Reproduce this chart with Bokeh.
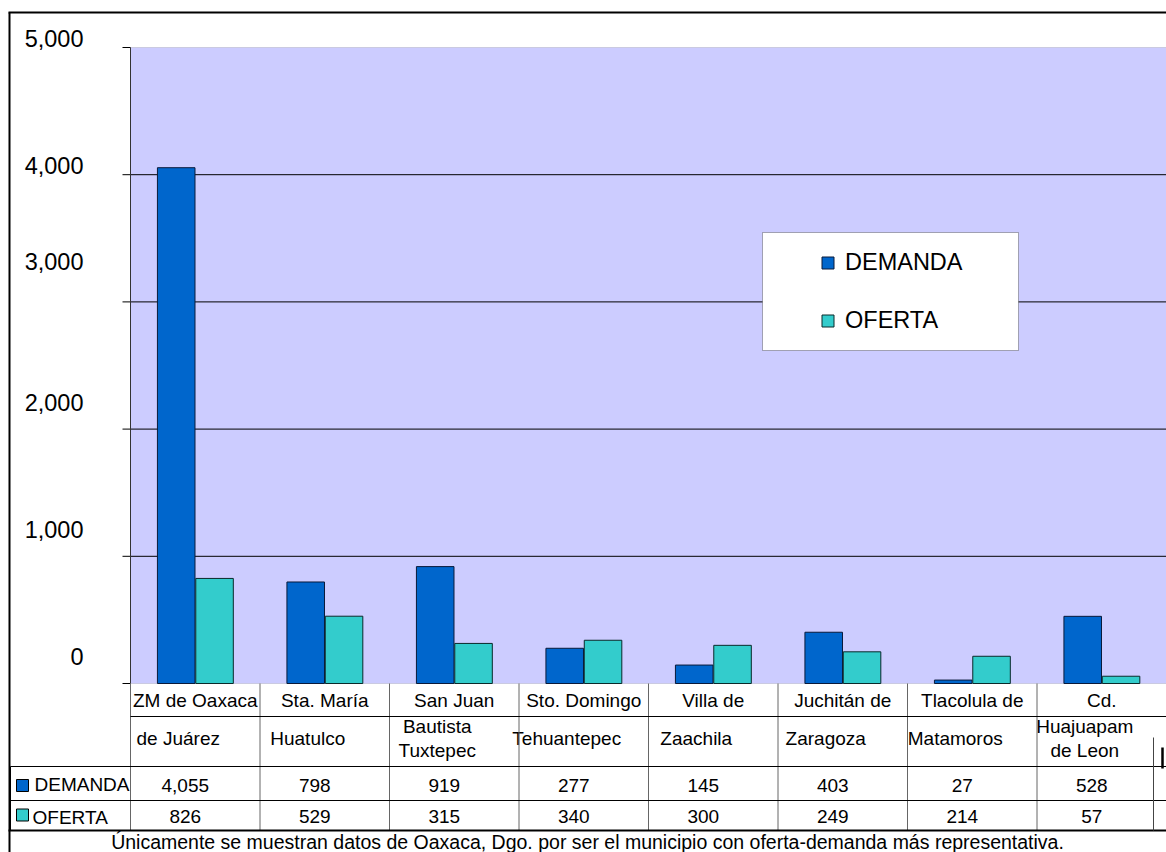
from bokeh.plotting import figure
from bokeh.models import (Range1d, FixedTicker, BoxAnnotation, Legend,
                          LegendItem, ColumnDataSource)
from bokeh.transform import dodge
from bokeh.embed import file_html
from bokeh.resources import INLINE
from bokeh.core.properties import value

# ---------------- data ----------------
categories_line1 = ["ZM de Oaxaca", "Sta. María", "San Juan", "Sto. Domingo",
                    "Villa de", "Juchitán de", "Tlacolula de", "Cd."]
categories_line2 = ["de Juárez", "Huatulco", "Bautista\nTuxtepec", "Tehuantepec",
                    "Zaachila", "Zaragoza", "Matamoros", "Huajuapam\nde Leon"]
series_names = ["DEMANDA", "OFERTA"]
series_colors = ["#0066CC", "#33CCCC"]
demanda = [4055, 798, 919, 277, 145, 403, 27, 528]
oferta = [826, 529, 315, 340, 300, 249, 214, 57]
y_ticks = [0, 1000, 2000, 3000, 4000, 5000]
y_tick_labels = ["0", "1,000", "2,000", "3,000", "4,000", "5,000"]
footer_note = ("Únicamente se muestran datos de Oaxaca, Dgo. por ser el municipio "
               "con oferta-demanda más representativa.")

# ---------------- layout constants (pixels) ----------------
FONT = "Liberation Sans"
W, H = 1166, 852
PX0 = 130.0          # x of the plot-area left edge
CAT_W = 129.5        # width of one category
Y0 = 683.0           # y of value 0
PPU = 636.0 / 5000   # pixels per unit
TICK_LEFT = 122.0
label_shift_px = [27, 26.5, 26.5, 40, 9, 9]   # tick labels sit above their ticks
n = len(demanda)


def dx(px):
    return (px - PX0) / CAT_W


def dy(py):
    return (Y0 - py) / PPU


p = figure(width=W, height=H, output_backend="svg", toolbar_location=None,
           x_range=Range1d(dx(0), dx(W)), y_range=Range1d(dy(H), dy(0)),
           x_axis_location=None, min_border_left=0, min_border_right=0,
           min_border_top=0, min_border_bottom=0)
p.outline_line_color = None
p.background_fill_color = "white"
p.border_fill_color = "white"
p.xgrid.visible = False
p.ygrid.visible = False

# y axis drawn at the left edge of the tick marks (labels only)
label_pos = [t + s / PPU for t, s in zip(y_ticks, label_shift_px)]
ax = p.yaxis[0]
ax.fixed_location = dx(TICK_LEFT)
ax.ticker = FixedTicker(ticks=label_pos, minor_ticks=[])
ax.major_label_overrides = {pos: lab for pos, lab in zip(label_pos, y_tick_labels)}
ax.major_tick_out = 0
ax.major_tick_in = 0
ax.minor_tick_out = 0
ax.minor_tick_in = 0
ax.axis_line_color = None
ax.major_label_standoff = 39
ax.major_label_text_font = FONT
ax.major_label_text_font_size = "23.5px"
ax.major_label_text_color = "black"

# plot area background
p.add_layout(BoxAnnotation(left=0, right=n, bottom=0, top=y_ticks[-1], fill_color="#CCCCFF",
                           fill_alpha=1, line_color="#8C8C9C", line_width=1, level="image"))
# tick marks + gridlines
grid_x1 = [0] + [n] * (len(y_ticks) - 2) + [0]
p.segment(x0=[dx(TICK_LEFT)] * len(y_ticks), x1=grid_x1, y0=y_ticks, y1=y_ticks,
          line_color="black", line_width=1)
p.segment(x0=[0], x1=[0], y0=[0], y1=[y_ticks[-1]], line_color="#333333", line_width=1)

# bars
src = ColumnDataSource(dict(x=[i + 0.5 for i in range(n)], demanda=demanda, oferta=oferta))
r1 = p.vbar(x=dodge("x", -0.147), top="demanda", width=0.29, bottom=0, source=src,
            fill_color=series_colors[0], line_color="#0A1A3A", line_width=1)
r2 = p.vbar(x=dodge("x", 0.149), top="oferta", width=0.29, bottom=0, source=src,
            fill_color=series_colors[1], line_color="#0A2A2A", line_width=1)

# legend
p.add_layout(BoxAnnotation(left=762, right=1018, top=232, bottom=350,
                           left_units="canvas", right_units="canvas",
                           top_units="canvas", bottom_units="canvas",
                           fill_color="white", fill_alpha=1, line_color="black", line_width=1))
legend = Legend(items=[LegendItem(label=series_names[0], renderers=[r1]),
                       LegendItem(label=series_names[1], renderers=[r2])],
                location=(820, H - 334), padding=0, margin=0,
                border_line_color=None, background_fill_alpha=0,
                glyph_width=15, glyph_height=15, label_standoff=10, spacing=31,
                label_height=27, label_text_font=FONT, label_text_font_size="23.5px",
                label_text_color="black")
p.add_layout(legend)

# ---------------- table below the plot ----------------
cx = [i + 0.5 for i in range(n)]
txt = dict(text_baseline="middle", text_font=value(FONT), text_font_size="19px",
           text_color="black")
p.text(x=cx, y=[dy(700)] * n, text=categories_line1, text_align="center", **txt)
p.text(x=[c - 17 / CAT_W for c in cx], y=[dy(738)] * n, text=categories_line2,
       text_align="center", text_line_height=1.1, **txt)
p.text(x=[c - 10 / CAT_W for c in cx], y=[dy(785)] * n, text=[f"{v:,}" for v in demanda],
       text_align="center", **txt)
p.text(x=[c - 10 / CAT_W for c in cx], y=[dy(816)] * n, text=[f"{v:,}" for v in oferta],
       text_align="center", **txt)

# row headers with colour keys
p.scatter(x=[dx(22), dx(22)], y=[dy(785), dy(814.5)], marker="square", size=12,
          fill_color=series_colors, line_color="black", line_width=1)
p.text(x=[dx(34), dx(32)], y=[dy(784), dy(817)], text=series_names, text_align="left", **txt)

# table lines
p.segment(x0=list(range(n)), x1=list(range(n)), y0=[0] * n, y1=[dy(830)] * n,
          line_color="#666666", line_width=1)
p.segment(x0=[0, dx(10), dx(10)], x1=[n] * 3,
          y0=[dy(716), dy(766), dy(800)], y1=[dy(716), dy(766), dy(800)],
          line_color="black", line_width=1)
p.segment(x0=[dx(10)], x1=[dx(10)], y0=[dy(766)], y1=[dy(830)],
          line_color="black", line_width=1)
p.segment(x0=[dx(8)], x1=[n], y0=[dy(830)], y1=[dy(830)],
          line_color="black", line_width=2)
p.segment(x0=[dx(1153)], x1=[dx(1153)], y0=[dy(737)], y1=[dy(830)],
          line_color="#444444", line_width=1)
p.segment(x0=[dx(1162)], x1=[dx(1162)], y0=[dy(747)], y1=[dy(768)],
          line_color="black", line_width=2.5)

# footer note
p.text(x=[dx(587)], y=[dy(841)], text=[footer_note], text_align="center",
       text_baseline="middle", text_font=value(FONT), text_font_size="19.5px",
       text_color="black")

# outer border
p.segment(x0=[dx(9), dx(8)], x1=[dx(9), n], y0=[dy(12), dy(12)], y1=[dy(H), dy(12)],
          line_color="black", line_width=2)

open("out.html", "w").write(file_html(p, INLINE))
